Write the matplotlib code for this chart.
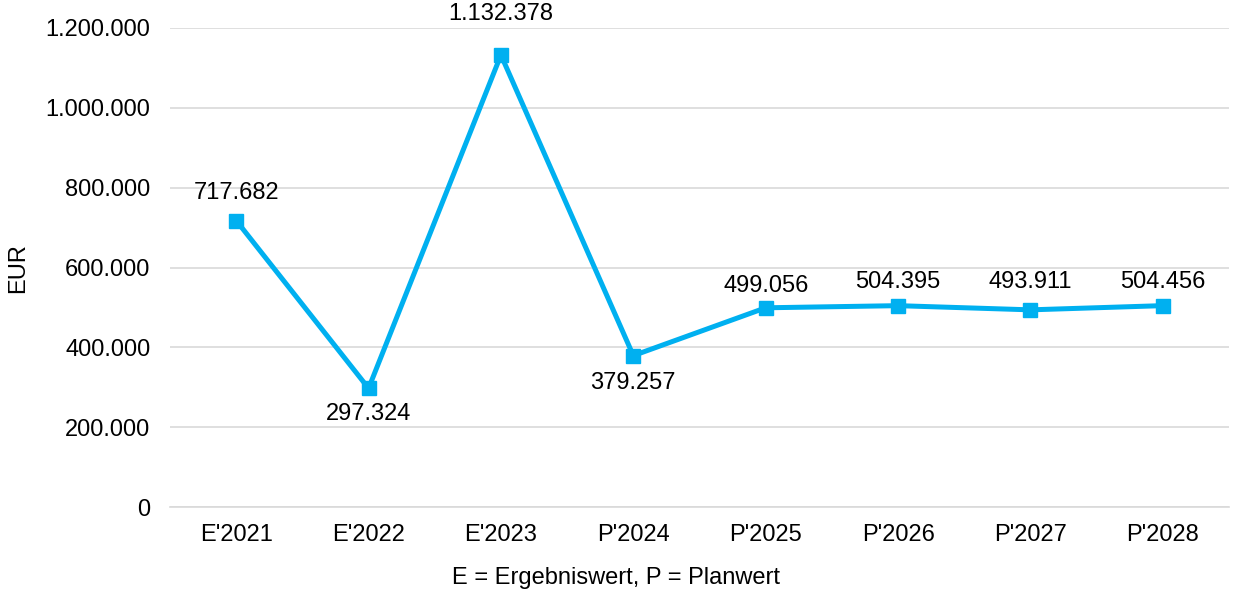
import numpy as np
import matplotlib
matplotlib.use("Agg")
import matplotlib.pyplot as plt
from matplotlib.ticker import FuncFormatter

plt.rcParams['font.family'] = ['Liberation Sans', 'DejaVu Sans']

categories = ["E'2021", "E'2022", "E'2023", "P'2024", "P'2025", "P'2026", "P'2027", "P'2028"]
values = [717682, 297324, 1132378, 379257, 499056, 504395, 493911, 504456]
labels = ["717.682", "297.324", "1.132.378", "379.257", "499.056", "504.395", "493.911", "504.456"]
# label offset from the point, in pixels (negative = below)
label_off_px = [28, -26, 41, -27, 22, 24, 28, 24]


def de_fmt(v, pos=None):
    return f"{int(v):,}".replace(",", ".")


FS = 17
fig = plt.figure(figsize=(12.33, 5.95), dpi=100)
ax = fig.add_axes([170 / 1233, 1 - 507 / 595, 1059 / 1233, 479 / 595])

x = np.arange(len(categories))
ax.plot(x, values, color='#00B0F0', linewidth=3.6, marker='s', markersize=10,
        solid_joinstyle='miter')

for xi, v, lab, off in zip(x, values, labels, label_off_px):
    ax.annotate(lab, (xi, v), xytext=(0, off * 0.72), textcoords='offset points',
                ha='center', va='center', fontsize=FS, color='#000000', annotation_clip=False)

ax.set_xlim(-0.5, len(categories) - 0.5)
ax.set_ylim(0, 1_200_000)
ax.set_yticks(np.arange(0, 1_200_001, 200_000))
ax.yaxis.set_major_formatter(FuncFormatter(de_fmt))
ax.set_xticks(x)
ax.set_xticklabels(categories)
ax.tick_params(axis='both', length=0, labelsize=FS, colors='#000000')
ax.tick_params(axis='x', pad=12)
ax.tick_params(axis='y', pad=14)

ax.grid(axis='y', color='#D9D9D9', linewidth=1.2)
ax.set_axisbelow(True)
for s in ['top', 'right', 'left']:
    ax.spines[s].set_visible(False)
ax.spines['bottom'].set_color('#D9D9D9')
ax.spines['bottom'].set_linewidth(1.2)

fig.text(18 / 1233, 1 - 268 / 595, 'EUR', rotation=90, ha='center', va='center', fontsize=FS)
fig.text(616 / 1233, 1 - 578 / 595, 'E = Ergebniswert, P = Planwert', ha='center', va='center',
         fontsize=FS)

fig.savefig('out.png', dpi=100)
